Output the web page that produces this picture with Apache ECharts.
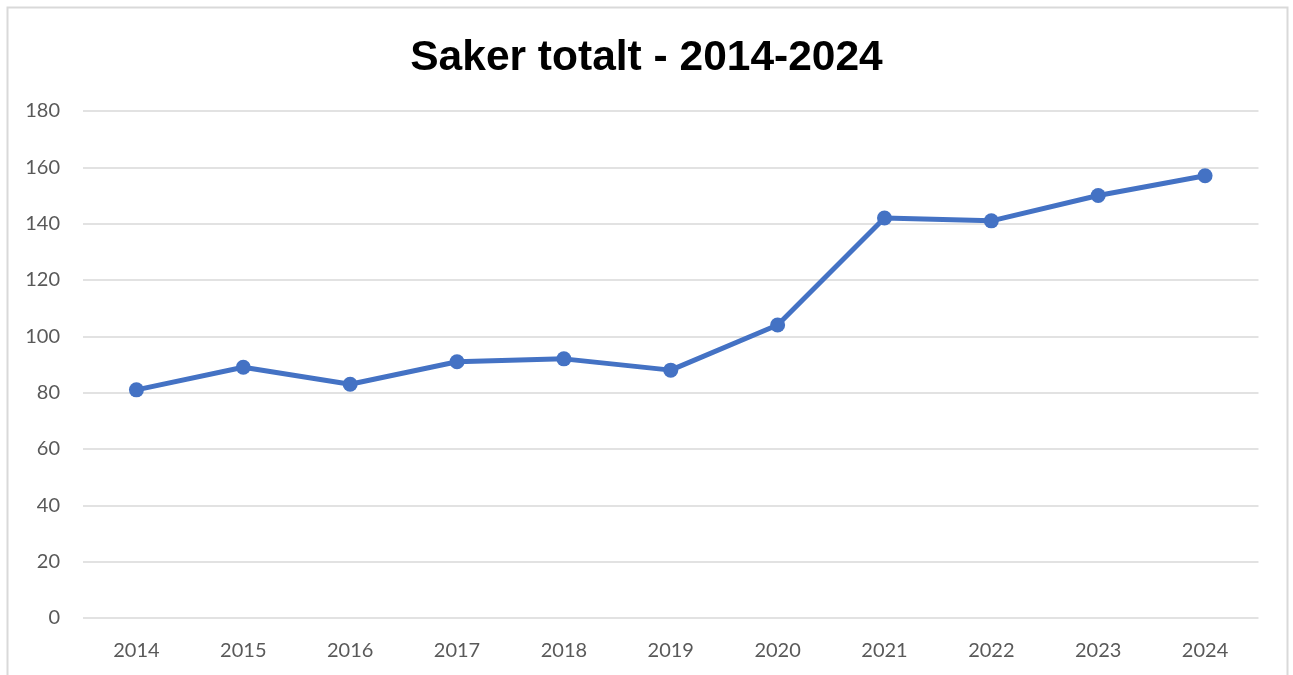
<!DOCTYPE html>
<html>
<head>
<meta charset="utf-8">
<script src="https://cdn.jsdelivr.net/npm/echarts@6/dist/echarts.min.js"></script>
<style>html,body{margin:0;padding:0;background:#fff;}#c{width:1293px;height:675px;}</style>
</head>
<body>
<div id="c"></div>
<script>
const years = ['2014','2015','2016','2017','2018','2019','2020','2021','2022','2023','2024'];
const saker = [81, 89, 83, 91, 92, 88, 104, 142, 141, 150, 157];
const titleText = 'Saker totalt - 2014-2024';

const chart = echarts.init(document.getElementById('c'), null, {renderer: 'canvas'});
chart.setOption({
  animation: false,
  backgroundColor: '#fff',
  graphic: [{
    type: 'rect', silent: true, z: -1,
    shape: {x: 7.5, y: 7.5, width: 1280, height: 700},
    style: {fill: 'none', stroke: '#d9d9d9', lineWidth: 2}
  }],
  title: {
    text: titleText, left: 'center', top: 32,
    textStyle: {fontFamily: 'Liberation Sans, Arial, sans-serif', fontWeight: 'bold', fontSize: 42.5, color: '#000'}
  },
  grid: {left: 83, right: 34.5, top: 111, bottom: 57, containLabel: false},
  xAxis: {
    type: 'category', data: years, boundaryGap: true,
    axisLine: {show: false}, axisTick: {show: false},
    axisLabel: {color: '#595959', fontSize: 20, fontFamily: 'Lato, Open Sans, sans-serif', margin: 23}
  },
  yAxis: {
    type: 'value', min: 0, max: 180, interval: 20,
    axisLine: {show: false}, axisTick: {show: false},
    axisLabel: {color: '#595959', fontSize: 20, fontFamily: 'Lato, Open Sans, sans-serif', margin: 23, padding: [3, 0, 0, 0]},
    splitLine: {lineStyle: {color: '#d9d9d9', width: 1.5}}
  },
  series: [{
    type: 'line', data: saker,
    symbol: 'circle', symbolSize: 15,
    lineStyle: {color: '#4472C4', width: 5},
    itemStyle: {color: '#4472C4'}
  }]
});
</script>
</body>
</html>
